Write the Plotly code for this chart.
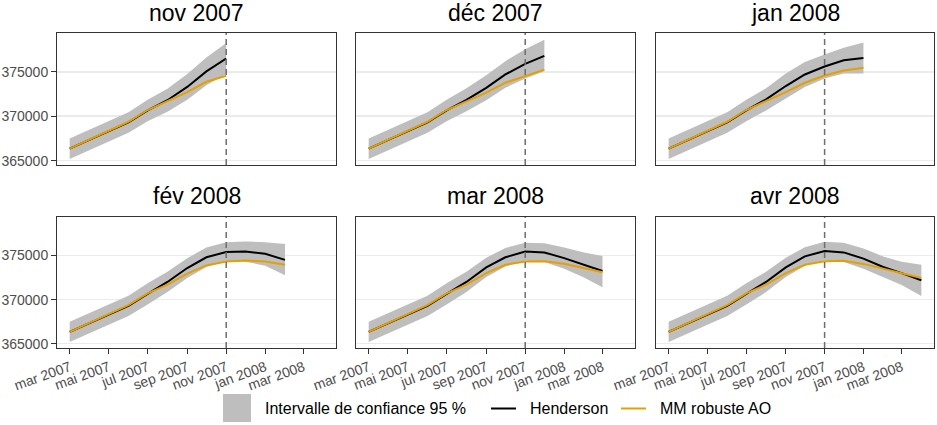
import plotly.graph_objects as go

# ---------------- data ----------------
months = ["2007-03-01", "2007-04-01", "2007-05-01", "2007-06-01", "2007-07-01",
          "2007-08-01", "2007-09-01", "2007-10-01", "2007-11-01", "2007-12-01",
          "2008-01-01", "2008-02-01", "2008-03-01", "2008-04-01"]
tick_dates = ["2007-03-01", "2007-05-01", "2007-07-01", "2007-09-01",
              "2007-11-01", "2008-01-01", "2008-03-01"]
tick_labels = ["mar 2007", "mai 2007", "jul 2007", "sep 2007",
               "nov 2007", "jan 2008", "mar 2008"]
y_ticks = [365000, 370000, 375000]
cutoff_date = "2007-11-01"
facet_titles = ["nov 2007", "déc 2007", "jan 2008", "fév 2008", "mar 2008", "avr 2008"]

henderson_nov07 = [366350, 367350, 368250, 369300, 370650, 371800, 373300, 375050, 376500]
robust_nov07 = [366350, 367380, 368320, 369380, 370700, 371700, 372720, 373880, 374550]
lower_nov07 = [365200, 366200, 367100, 368150, 369450, 370500, 371850, 373500, 374750]
upper_nov07 = [367500, 368500, 369400, 370450, 371850, 373100, 374750, 376600, 378250]

henderson_dec07 = [366350, 367350, 368250, 369300, 370650, 371850, 373200, 374700, 375900, 376800]
robust_dec07 = [366350, 367380, 368320, 369380, 370700, 371700, 372650, 373770, 374500, 375250]
lower_dec07 = [365200, 366200, 367100, 368150, 369450, 370550, 371800, 373200, 374250, 375050]
upper_dec07 = [367500, 368500, 369400, 370450, 371850, 373150, 374600, 376200, 377550, 378600]

henderson_jan08 = [366350, 367350, 368250, 369300, 370650, 371900, 373400, 374700, 375600, 376300, 376550]
robust_jan08 = [366350, 367380, 368320, 369380, 370700, 371700, 372720, 373770, 374580, 375150, 375450]
lower_jan08 = [365200, 366200, 367100, 368150, 369450, 370650, 372000, 373300, 374250, 374800, 374800]
upper_jan08 = [367500, 368500, 369400, 370450, 371850, 373150, 374800, 376100, 376950, 377700, 378300]

henderson_feb08 = [366350, 367350, 368250, 369300, 370650, 372000, 373580, 374800, 375400, 375450, 375200, 374500]
robust_feb08 = [366350, 367380, 368320, 369380, 370700, 371700, 372950, 373880, 374330, 374440, 374330, 373950]
lower_feb08 = [365200, 366200, 367100, 368150, 369450, 370850, 372450, 373700, 374300, 374300, 373850, 372750]
upper_feb08 = [367500, 368500, 369400, 370450, 371850, 373150, 374700, 375900, 376500, 376600, 376500, 376300]

henderson_mar08 = [366350, 367350, 368250, 369300, 370650, 372000, 373650, 374800, 375450, 375350, 374700, 373950, 373250]
robust_mar08 = [366350, 367380, 368320, 369380, 370700, 371700, 373000, 373950, 374330, 374360, 374060, 373600, 373100]
lower_mar08 = [365200, 366200, 367100, 368150, 369450, 370850, 372550, 373750, 374400, 374250, 373500, 372500, 371400]
upper_mar08 = [367500, 368500, 369400, 370450, 371850, 373150, 374750, 375850, 376450, 376400, 375900, 375350, 374950]

henderson_apr08 = [366350, 367350, 368250, 369300, 370650, 372000, 373650, 374900, 375500, 375350, 374650, 373700, 373000, 372200]
robust_apr08 = [366350, 367380, 368320, 369380, 370700, 371700, 373000, 373950, 374350, 374400, 374050, 373500, 373000, 372450]
lower_apr08 = [365200, 366200, 367100, 368150, 369450, 370850, 372550, 373850, 374450, 374250, 373500, 372500, 371650, 370400]
upper_apr08 = [367500, 368500, 369400, 370450, 371850, 373150, 374750, 375950, 376550, 376450, 375800, 374900, 374300, 373950]

panels = [
    (henderson_nov07, robust_nov07, lower_nov07, upper_nov07),
    (henderson_dec07, robust_dec07, lower_dec07, upper_dec07),
    (henderson_jan08, robust_jan08, lower_jan08, upper_jan08),
    (henderson_feb08, robust_feb08, lower_feb08, upper_feb08),
    (henderson_mar08, robust_mar08, lower_mar08, upper_mar08),
    (henderson_apr08, robust_apr08, lower_apr08, upper_apr08),
]

# ---------------- layout helpers ----------------
W, H = 937, 425
col_px = [(57, 336), (356, 635), (656, 934)]
row_px = [(33, 165), (217, 348)]
x_range = ["2007-02-09 03:36", "2008-04-20 20:24"]
y_range = [364515, 379365]

RIBBON = "#BEBEBE"
HEND = "#000000"
ROB = "#E69F00"
FONT = "Liberation Sans"


def px_x(p):
    return p / W


def px_y(p):
    return 1 - p / H


fig = go.Figure()
shapes = []
annotations = []

for i, (hend, rob, lo, hi) in enumerate(panels):
    r, c = divmod(i, 3)
    n = i + 1
    xn = "x" if n == 1 else f"x{n}"
    yn = "y" if n == 1 else f"y{n}"
    xs = months[:len(hend)]
    common = dict(xaxis=xn, yaxis=yn, showlegend=False, hoverinfo="skip")
    fig.add_trace(go.Scatter(x=xs, y=hi, mode="lines", line=dict(width=0, color=RIBBON), **common))
    fig.add_trace(go.Scatter(x=xs, y=lo, mode="lines", line=dict(width=0, color=RIBBON),
                             fill="tonexty", fillcolor=RIBBON, **common))
    fig.add_trace(go.Scatter(x=xs, y=hend, mode="lines", line=dict(width=2, color=HEND), **common))
    fig.add_trace(go.Scatter(x=xs, y=rob, mode="lines", line=dict(width=2, color=ROB), **common))

    bottom = (r == 1)
    left = (c == 0)
    xa = dict(
        domain=[px_x(col_px[c][0]), px_x(col_px[c][1])],
        anchor=yn, type="date", range=x_range, automargin=False,
        tickmode="array", tickvals=tick_dates, ticktext=tick_labels,
        showticklabels=bottom, ticks="outside" if bottom else "",
        ticklen=5, tickwidth=1, tickcolor="#333333",
        tickangle=-20, tickfont=dict(size=14, color="#4D4D4D", family=FONT),
        showgrid=False, zeroline=False,
        showline=True, mirror=True, linecolor="#333333", linewidth=1,
    )
    ya = dict(
        domain=[px_y(row_px[r][1]), px_y(row_px[r][0])],
        anchor=xn, range=y_range, automargin=False,
        tickmode="array", tickvals=y_ticks, ticktext=[str(v) for v in y_ticks],
        showticklabels=left, ticks="outside" if left else "",
        ticklen=5, tickwidth=1, tickcolor="#333333",
        tickfont=dict(size=14, color="#4D4D4D", family=FONT),
        showgrid=True, gridcolor="#EBEBEB", gridwidth=1.5, zeroline=False,
        showline=True, mirror=True, linecolor="#333333", linewidth=1,
    )
    fig.layout["xaxis" if n == 1 else f"xaxis{n}"] = xa
    fig.layout["yaxis" if n == 1 else f"yaxis{n}"] = ya

    shapes.append(dict(type="line", xref=xn, yref=f"{yn} domain",
                       x0=cutoff_date, x1=cutoff_date, y0=0, y1=1,
                       line=dict(color="#6E6E6E", width=1.5, dash="6px,4px")))

    title_y = [13.0, 196.0][r]
    annotations.append(dict(text=facet_titles[i], xref="paper", yref="paper",
                            x=px_x((col_px[c][0] + col_px[c][1]) / 2), y=px_y(title_y),
                            xanchor="center", yanchor="middle", showarrow=False,
                            font=dict(size=23, color="#000000", family=FONT)))

# ---------------- manual legend ----------------
leg_y = 408.5
shapes.append(dict(type="rect", xref="paper", yref="paper",
                   x0=px_x(223), x1=px_x(251), y0=px_y(422), y1=px_y(394),
                   fillcolor=RIBBON, line=dict(width=0)))
shapes.append(dict(type="line", xref="paper", yref="paper",
                   x0=px_x(491), x1=px_x(516), y0=px_y(leg_y), y1=px_y(leg_y),
                   line=dict(color=HEND, width=2)))
shapes.append(dict(type="line", xref="paper", yref="paper",
                   x0=px_x(621), x1=px_x(646), y0=px_y(leg_y), y1=px_y(leg_y),
                   line=dict(color=ROB, width=2)))
for txt, xp in [("Intervalle de confiance 95 %", 263), ("Henderson", 528), ("MM robuste AO", 658)]:
    annotations.append(dict(text=txt, xref="paper", yref="paper",
                            x=px_x(xp), y=px_y(leg_y), xanchor="left", yanchor="middle",
                            showarrow=False, font=dict(size=16, color="#000000", family=FONT)))

fig.update_layout(
    template="none",
    width=W, height=H, autosize=False,
    margin=dict(l=0, r=0, t=0, b=0, pad=0, autoexpand=False),
    plot_bgcolor="white", paper_bgcolor="white",
    showlegend=False,
    font=dict(family=FONT),
    shapes=shapes, annotations=annotations,
)

fig.write_html(
    "out.html",
    config={"displayModeBar": False, "staticPlot": True},
    post_script="document.body.style.margin='0px';document.body.style.padding='0px';"
                "document.body.style.overflow='hidden';",
)
